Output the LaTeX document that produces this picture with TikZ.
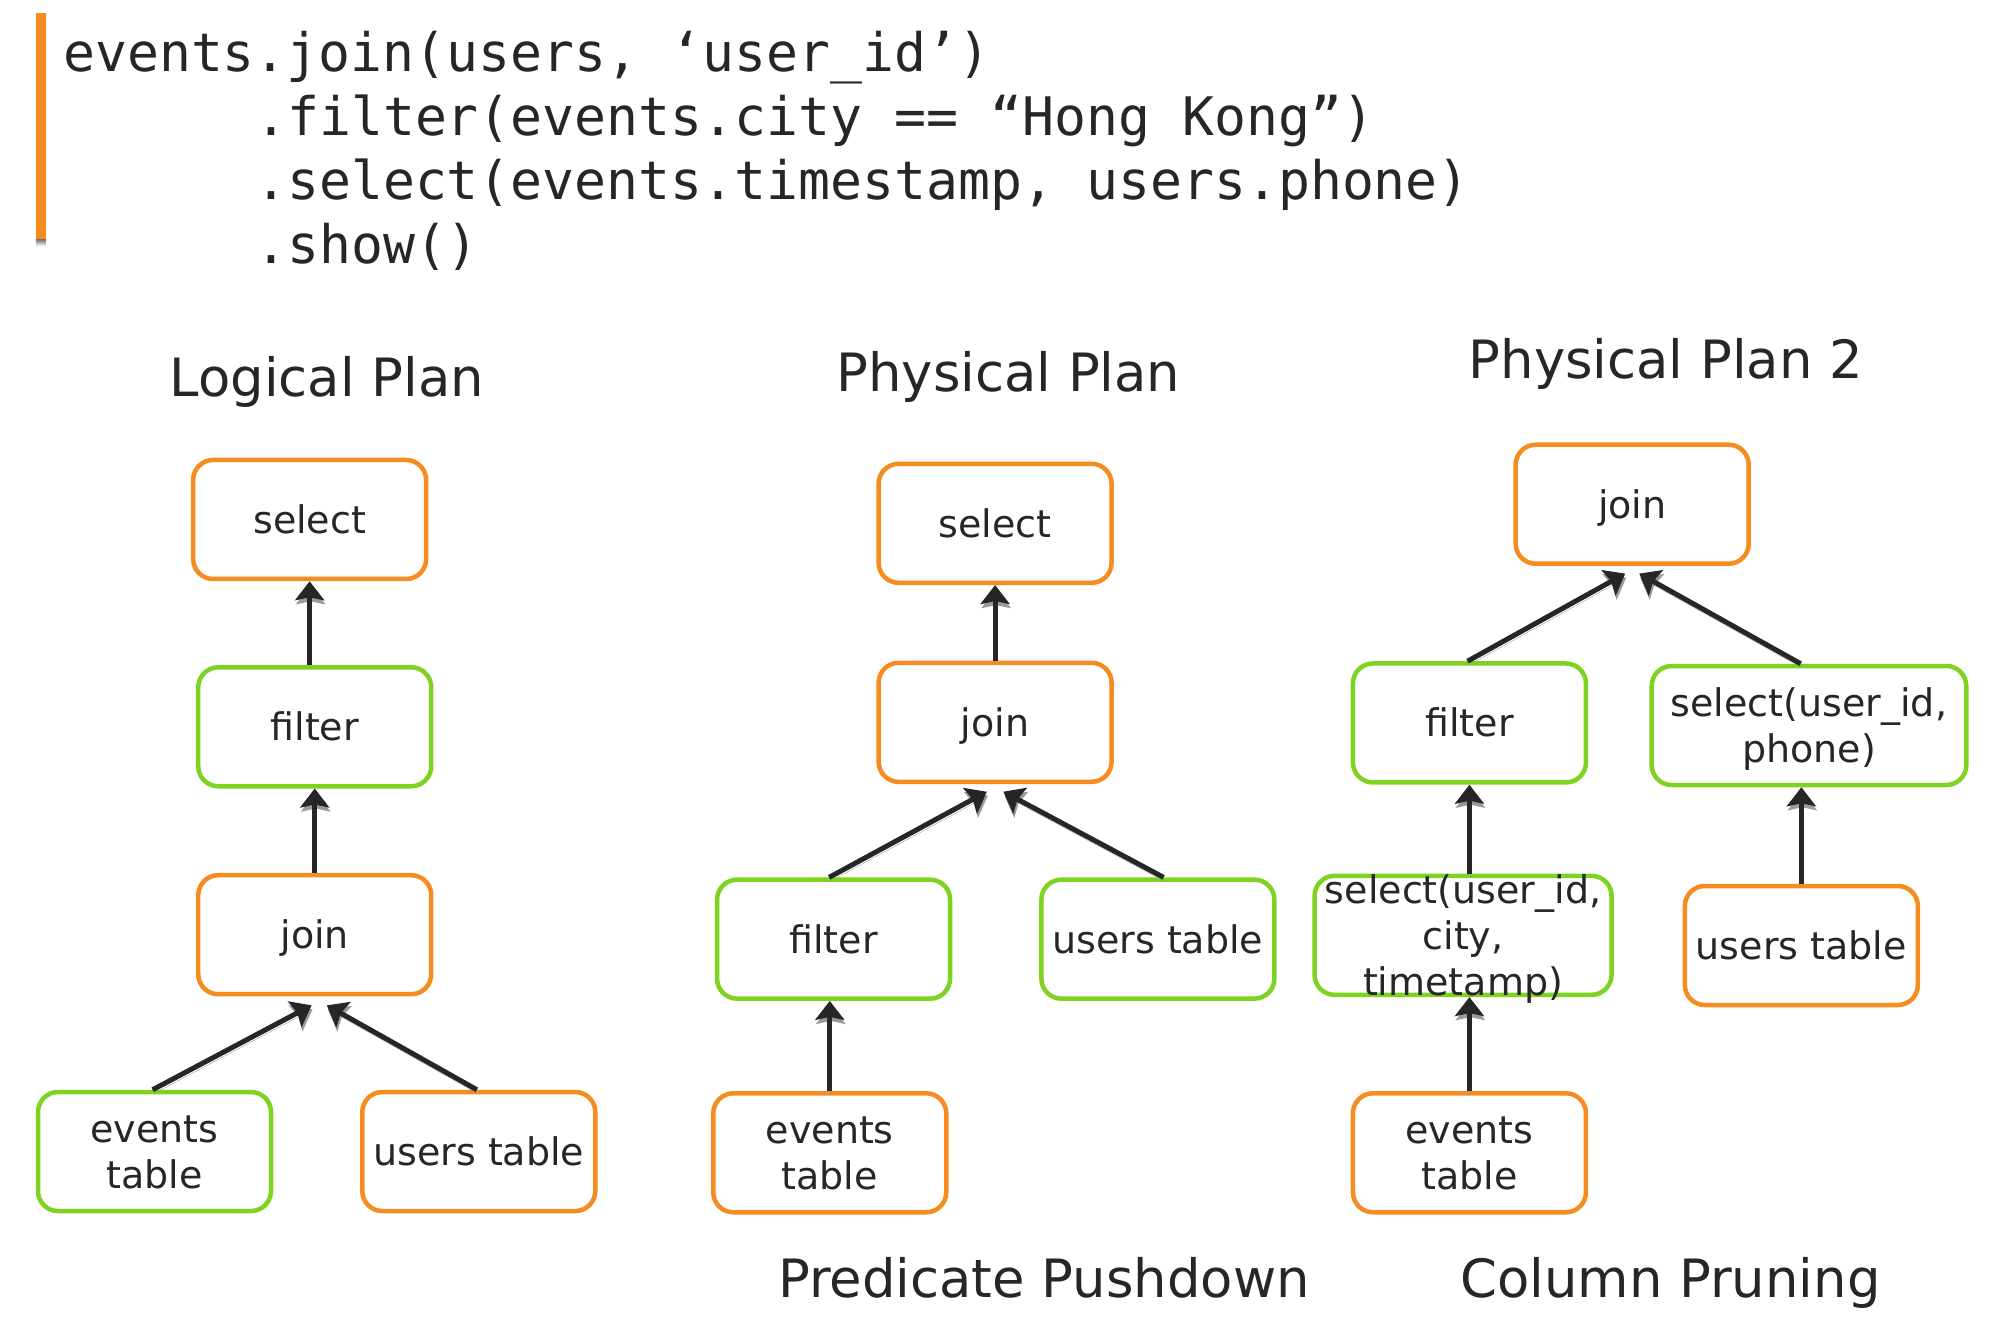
\documentclass[tikz,border=0pt]{standalone}
\usepackage{fontspec}
\setmainfont{DejaVu Sans}
\newfontfamily\codefont{DejaVu Sans Mono}
\usetikzlibrary{arrows.meta,calc}
\definecolor{orng}{HTML}{F68B1F}
\definecolor{grn}{HTML}{7ED321}
\definecolor{ink}{HTML}{262626}
\definecolor{shade}{HTML}{9A9A9A}
\newcommand\st{\rule[-8.5pt]{0pt}{45pt}}
\begin{document}
\begin{tikzpicture}[x=1.2717pt,y=-1.2717pt,
  box/.style={draw, rounded corners=20pt, line width=4.5pt, fill=white,
    minimum width=233pt, minimum height=119pt, inner sep=0pt, align=center,
    text=ink, font=\fontsize{38}{45.8}\selectfont},
  obox/.style={box, draw=orng},
  gbox/.style={box, draw=grn},
  boxtext/.style={inner sep=0pt, align=center, text=ink, font=\fontsize{38}{45.8}\selectfont},
  arr/.style={draw=ink, line width=5pt, -{Stealth[length=19pt,width=29pt,inset=3pt]},
    preaction={draw=shade, transform canvas={shift={(1pt,-4pt)}}}},
  title/.style={anchor=base, text=ink, font=\fontsize{52.8}{60}\selectfont, inner sep=0pt},
  code/.style={anchor=base west, text=ink, font=\codefont\fontsize{53.1}{63.9}\selectfont, inner sep=0pt}
]
\useasboundingbox (0,0) rectangle (1568,1041);
% code block
\fill[orng] (28.3,10.2) rectangle (36.2,188.7);
\fill[shade] (28.3,188.7) rectangle (36.2,193.5);
\node[code] (c1) at (49.5,56.4) {events.join(users, ‘user\_id’)};
\node[code] (c2) at (200.5,106.6) {.filter(events.city == “Hong Kong”)};
\node[code] (c3) at (200.5,156.8) {.select(events.timestamp, users.phone)};
\node[code] (c4) at (200.5,207) {.show()};
% titles
\node[title] (t1) at (257,312) {Logical Plan};
\node[title] (t2) at (793,308) {Physical Plan};
\node[title] (t3) at (1310,298) {Physical Plan 2};
\node[title] (t4) at (821,1020) {Predicate Pushdown};
\node[title] (t5) at (1313.5,1020) {Column Pruning};
% logical plan
\node[obox] (lsel) at (243.5,408.5) {\st select};
\node[gbox] (lfil) at (247.5,571.5) {\st filter};
\node[obox] (ljoin) at (247.5,735) {\st join};
\node[gbox] (lev) at (121.5,905.5) {\st events\\\st table};
\node[obox] (lus) at (376.5,905.5) {\st users table};
\draw[arr] (lsel.south |- lfil.north) -- (lsel.south);
\draw[arr] (ljoin.north) -- (lfil.south);
\draw[arr] ($(lev.north)+(-1.5,0)$) -- ($(ljoin.south)+(-2.5,7)$);
\draw[arr] ($(lus.north)+(-1.5,0)$) -- ($(ljoin.south)+(9.5,7)$);
% physical plan
\node[obox] (psel) at (782.5,411.5) {\st select};
\node[obox] (pjoin) at (782.5,568) {\st join};
\node[gbox] (pfil) at (655.5,738.5) {\st filter};
\node[gbox] (pus) at (910.5,738.5) {\st users table};
\node[obox] (pev) at (652.5,906.5) {\st events\\\st table};
\draw[arr] (pjoin.north) -- (psel.south);
\draw[arr] ($(pfil.north)+(-3.5,0)$) -- ($(pjoin.south)+(-6.5,6)$);
\draw[arr] ($(pus.north)+(4.5,0)$) -- ($(pjoin.south)+(6.5,6)$);
\draw[arr] (pev.north) -- (pev.north |- pfil.south);
% physical plan 2
\node[obox] (qjoin) at (1283.5,396.5) {\st join};
\node[gbox] (qfil) at (1155.5,568.5) {\st filter};
\node[gbox, minimum width=314.7pt] (qsel) at (1422.5,570.5) {\st select(user\_id,\\\st phone)};
\node[gbox, minimum width=297pt] (qsel2) at (1150.5,735.5) {};
\node[boxtext] (qsel2t) at (qsel2.center) {\st select(user\_id,\\\st city,\\\st timetamp)};
\node[obox] (qus) at (1416.5,743.5) {\st users table};
\node[obox] (qev) at (1155.5,906.5) {\st events\\\st table};
\draw[arr] ($(qfil.north)+(-1.5,0)$) -- ($(qjoin.south)+(-5.5,6)$);
\draw[arr] ($(qsel.north)+(-6.5,0)$) -- ($(qjoin.south)+(5.5,6)$);
\draw[arr] (qfil.south |- qsel2.north) -- (qfil.south);
\draw[arr] (qus.north) -- (qus.north |- qsel.south);
\draw[arr] (qev.north) -- (qev.north |- qsel2.south);
\end{tikzpicture}
\end{document}
